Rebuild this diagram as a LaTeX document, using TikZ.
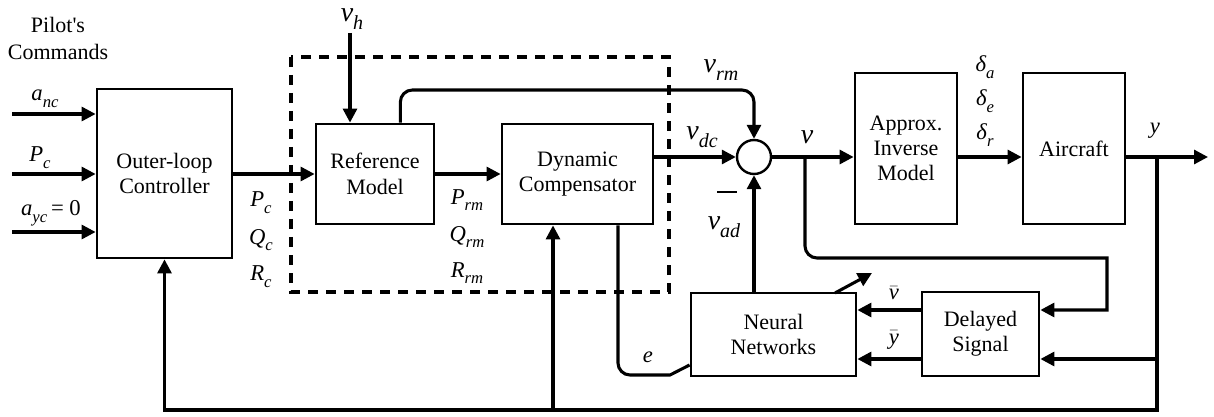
\documentclass[tikz,border=0pt]{standalone}
\usepackage{fontspec}
\setmainfont{Liberation Serif}
\usetikzlibrary{arrows.meta,calc}
\newcommand\sbs[2][12.5]{\raisebox{-0.3em}{\fontsize{#1}{#1}\selectfont\itshape #2}}
\newcommand\barred[1]{\ensuremath{\bar{\hbox{\itshape #1}}}}
\begin{document}
\begin{tikzpicture}[x=0.75pt,y=-0.75pt,
  blk/.style={draw, line width=2.1pt, align=center, font=\fontsize{16.5}{19}\selectfont, inner sep=0pt},
  conn/.style={line width=2.3pt},
  arr/.style={conn, -{Triangle[length=10.5pt,width=10.5pt]}},
  lbl/.style={font=\fontsize{17}{20}\selectfont\itshape, inner sep=0pt},
  nu/.style={font=\fontsize{21}{24}\selectfont\itshape, inner sep=0pt},
  txt/.style={font=\fontsize{16.5}{20}\selectfont, align=center, inner sep=0pt}]
\useasboundingbox (0,0) rectangle (1214,417);

% blocks
\node[blk, minimum width=101.25pt, minimum height=126.75pt] (ctrl) at (164.5,173.5) {Outer-loop\\Controller};
\node[blk, minimum width=88.5pt, minimum height=75pt] (ref) at (375,174) {Reference\\Model};
\node[blk, minimum width=113.25pt, minimum height=75pt] (dc) at (577.5,174) {Dynamic\\Compensator};
\node[draw, circle, line width=1.8pt, minimum size=25.5pt, inner sep=0pt] (sum) at (754,157) {};
\node[blk, minimum width=76.5pt, minimum height=113.25pt] (inv) at (906,148.5) {Approx.\\Inverse\\Model};
\node[blk, minimum width=76.5pt, minimum height=113.25pt] (air) at (1074,148.5) {Aircraft};
\node[blk, minimum width=123.75pt, minimum height=62.25pt] (nn) at (773.5,334.5) {Neural\\Networks};
\node[blk, minimum width=87.75pt, minimum height=63pt] (ds) at (980.5,334) {Delayed\\Signal};

% dashed box
\draw[line width=2.3pt, dash pattern=on 7.5pt off 6pt] (291,57) rectangle (669,292);

% coordinates
\coordinate (in1) at (12,114);
\coordinate (in2) at (12,174);
\coordinate (in3) at (12,232);
\coordinate (vh) at (350,33);
\coordinate (rmy) at (0,90);
\coordinate (vb) at (805,157);
\coordinate (vc) at (1107,258);
\coordinate (vd) at (0,310);
\coordinate (yb) at (1157,157);
\coordinate (yout) at (1208,157);
\coordinate (bot) at (0,410);
\coordinate (dcin) at (553,410);
\coordinate (yd) at (1157,359);
\coordinate (ebot) at (618,375);
\coordinate (ecor) at (670,375);
\coordinate (ad1) at (835,293);
\coordinate (ad2) at (872,273);

% connectors
\draw[arr] (in1) -- (in1 -| ctrl.west);
\draw[arr] (in2) -- (in2 -| ctrl.west);
\draw[arr] (in3) -- (in3 -| ctrl.west);
\draw[arr] (ctrl.east |- ref.west) -- (ref.west);
\draw[arr] (vh) -- (vh |- ref.north);
\draw[arr] (ref.east) -- (dc.west);
\draw[arr, rounded corners=9pt] ($(ref.north west)!0.71!(ref.north east)$) |- (sum |- rmy) -- (sum.north);
\draw[arr] (dc.east |- sum) -- (sum.west);
\draw[arr] (sum.east) -- (sum.east -| inv.west);
\draw[arr] (inv.east |- sum) -- (air.west |- sum);
\draw[arr] (air.east |- sum) -- (yout);
\draw[arr] (vb) [rounded corners=9pt] -- (vb |- vc) [sharp corners] -- (vc) -- (vc |- vd) -- (ds.east |- vd);
\draw[arr] (ds.west |- vd) -- (nn.east |- vd);
\draw[arr] (ds.west |- yd) -- (nn.east |- yd);
\draw[arr] (yd) -- (ds.east |- yd);
\draw[arr] (yb) |- (ctrl.south |- bot) -- (ctrl.south);
\draw[arr] (dcin) -- (dcin |- dc.south);
\draw[arr] (sum |- nn.north) -- (sum.south);
\draw[conn] (ebot |- dc.south) [rounded corners=9pt] -- (ebot) [sharp corners] -- (ecor) -- (nn.west |- 0,365);
\draw[arr] (ad1) -- (ad2);

% labels
\node[txt] (pilot) at (58,38.5) {Pilot\textquotesingle s\\Commands};
\node[lbl] (l1) at (45,99) {a\sbs{nc}};
\node[lbl] (l2) at (40,158) {P\sbs{c}};
\node[lbl] (l3) at (51,213) {a\sbs{yc}\,\upshape= 0};
\node[lbl] (l4) at (261,203) {P\sbs{c}};
\node[lbl] (l5) at (261,240) {Q\sbs{c}};
\node[lbl] (l6) at (261,277) {R\sbs{c}};
\node[nu] (lvh) at (352,19) {ν\sbs[15]{h}};
\node[lbl] (l7) at (467,200) {P\sbs{rm}};
\node[lbl] (l8) at (467,237) {Q\sbs{rm}};
\node[lbl] (l9) at (467,273) {R\sbs{rm}};
\node[nu] (lvrm) at (721,70) {ν\sbs[15]{rm}};
\node[nu] (lvdc) at (702,137) {ν\sbs[15]{dc}};
\node[nu] (lvad) at (724,227) {ν\sbs[15]{ad}};
\node[inner sep=0pt] (minus) at (727,192) {\rule{15pt}{1.8pt}};
\node[nu] (lv) at (807,137) {ν};
\node[lbl] (d1) at (985,67) {δ\sbs{a}};
\node[lbl] (d2) at (985,101) {δ\sbs{e}};
\node[lbl] (d3) at (985,135) {δ\sbs{r}};
\node[lbl] (ly) at (1155,131) {y};
\node[lbl] (le) at (648,357) {e};
\node[lbl] (lvb) at (894,293) {\barred{ν}};
\node[lbl] (lyb) at (894,340) {\barred{y}};
\end{tikzpicture}
\end{document}
